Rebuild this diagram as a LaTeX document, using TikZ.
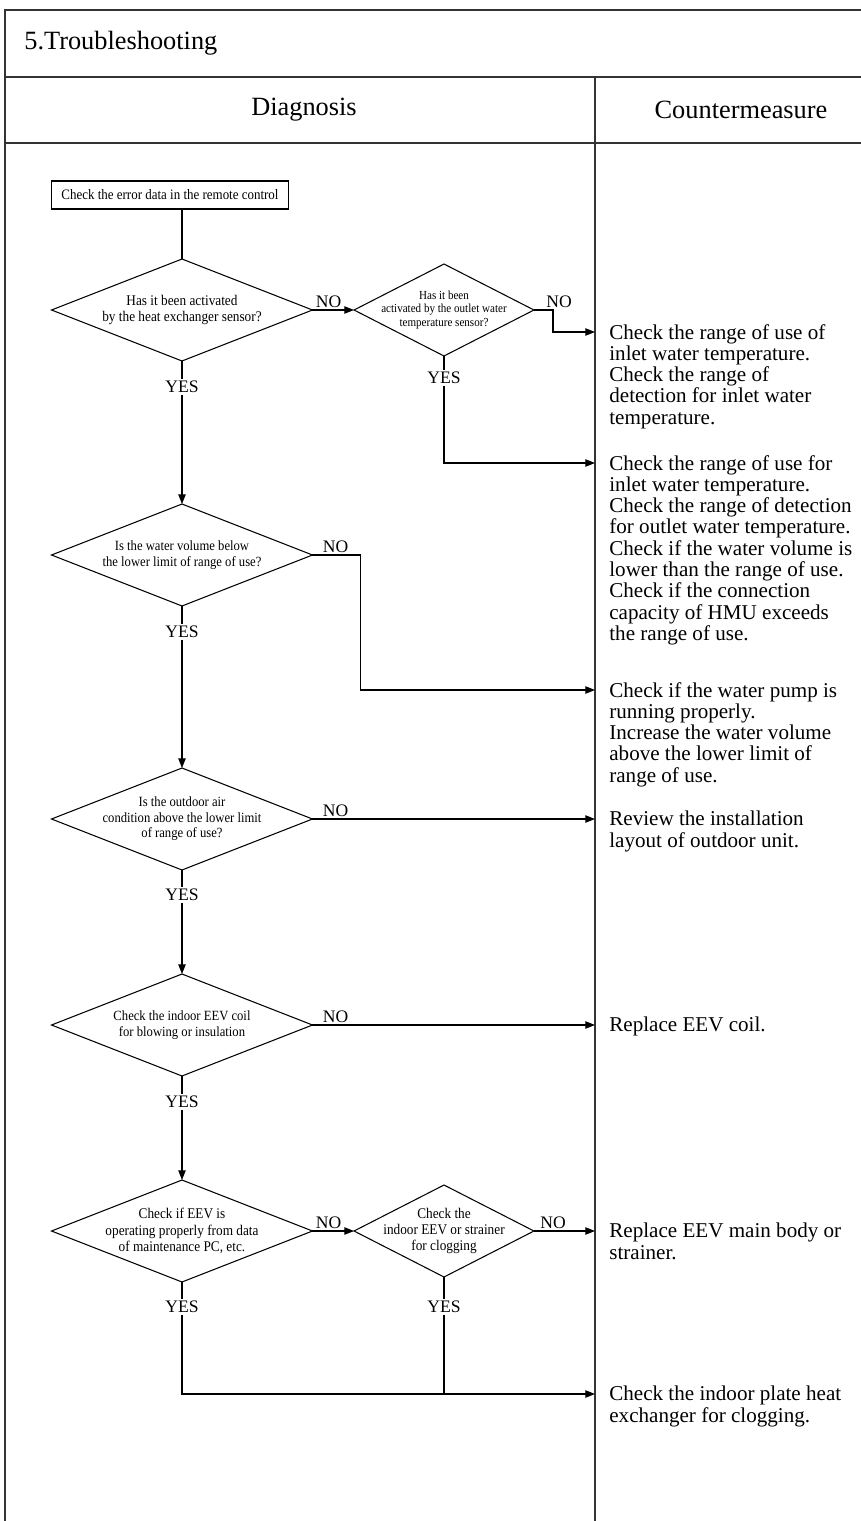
\documentclass[tikz,border=0pt]{standalone}
\usepackage{fontspec}
\setmainfont{Liberation Serif}
\newfontfamily\narrowserif[FakeStretch=0.9]{Liberation Serif}
\usetikzlibrary{arrows.meta,shapes.geometric}

\begin{document}
\begin{tikzpicture}[x=0.02cm, y=-0.02cm,
    frame/.style={line width=0.9pt, draw=black!80},
    flow/.style={line width=0.6pt},
    arr/.style={flow, -{Triangle[length=5.5pt,width=4.2pt]}},
    startbox/.style={draw, flow, minimum width=4.74cm, minimum height=0.56cm, inner sep=0pt,
        font=\narrowserif\fontsize{8.2}{9}\selectfont},
    bigq/.style={diamond, draw, flow, shape aspect=2.5, inner sep=-4pt, outer sep=0pt,
        minimum width=5.22cm, minimum height=2.04cm, align=center,
        font=\narrowserif\fontsize{8.4}{9.2}\selectfont},
    smallq/.style={diamond, draw, flow, shape aspect=2, inner sep=-4pt, outer sep=0pt,
        minimum width=3.6cm, minimum height=1.84cm, align=center,
        font=\narrowserif\fontsize{8.4}{9.2}\selectfont},
    smalltext/.style={font=\narrowserif\fontsize{8}{8.8}\selectfont},
    yn/.style={font=\fontsize{10}{10}\selectfont, inner sep=1.2pt},
    answer/.style={anchor=north west, align=left, inner sep=0pt,
        font=\fontsize{12}{12.1}\selectfont},
    head/.style={font=\fontsize{15}{18}\selectfont, inner sep=0pt}]

    \useasboundingbox (0,0) rectangle (861,1521);

    % Table frame
    \draw[frame] (5,1521) -- (5,10) -- (861,10);
    \draw[frame] (5,77) -- (861,77);
    \draw[frame] (5,143) -- (861,143);
    \draw[frame] (595,77) -- (595,1521);

    \node[head, anchor=west] (title) at (24,43) {5.Troubleshooting};
    \node[head] (diag) at (304,110) {Diagnosis};
    \node[head] (counter) at (741,110) {Countermeasure};

    % Decisions
    \node[startbox] (start) at (170,195) {Check the error data in the remote control};
    \node[bigq] (q1) at (182,310) {Has it been activated\\by the heat exchanger sensor?};
    \node[smallq, font=\narrowserif\fontsize{7}{7.7}\selectfont] (q2) at (444,310)
        {Has it been\\activated by the outlet water\\temperature sensor?};
    \node[bigq, smalltext] (q3) at (182,555) {Is the water volume below\\the lower limit of range of use?};
    \node[bigq, smalltext] (q4) at (182,819) {Is the outdoor air\\condition above the lower limit\\of range of use?};
    \node[bigq, smalltext] (q5) at (182,1025) {Check the indoor EEV coil\\for blowing or insulation};
    \node[bigq] (q6) at (182,1231) {Check if EEV is\\operating properly from data\\of maintenance PC, etc.};
    \node[smallq] (q7) at (444,1231) {Check the\\indoor EEV or strainer\\for clogging};

    % YES / NO labels
    \node[yn] (yes1) at (182,387) {YES};
    \node[yn] (yes2) at (444,378) {YES};
    \node[yn] (yes3) at (182,632) {YES};
    \node[yn] (yes4) at (182,895) {YES};
    \node[yn] (yes5) at (182,1102) {YES};
    \node[yn] (yes6) at (182,1307) {YES};
    \node[yn] (yes7) at (444,1307) {YES};

    \node[yn, anchor=south west, xshift=0.02cm] (no1) at (q1.east) {NO};
    \node[yn, anchor=south west, xshift=0.2cm] (no2) at (q2.east) {NO};
    \node[yn, anchor=south west, xshift=0.16cm] (no3) at (q3.east) {NO};
    \node[yn, anchor=south west, xshift=0.16cm] (no4) at (q4.east) {NO};
    \node[yn, anchor=south west, xshift=0.16cm] (no5) at (q5.east) {NO};
    \node[yn, anchor=south west, xshift=0.02cm] (no6) at (q6.east) {NO};
    \node[yn, anchor=south west, xshift=0.08cm] (no7) at (q7.east) {NO};

    % Arrow ends on the column line
    \coordinate (inA) at (595,332);
    \coordinate (inB) at (595,463);
    \coordinate (inC) at (595,690);
    \coordinate (inD) at (595,819);
    \coordinate (inE) at (595,1025);
    \coordinate (inF) at (595,1231);
    \coordinate (inG) at (595,1394);

    % Countermeasures
    \node[answer] (txtA) at (609,324) {Check the range of use of\\inlet water temperature.\\Check the range of\\detection for inlet water\\temperature.};
    \node[answer] (txtB) at (609,455) {Check the range of use for\\inlet water temperature.\\Check the range of detection\\for outlet water temperature.\\Check if the water volume is\\lower than the range of use.\\Check if the connection\\capacity of HMU exceeds\\the range of use.};
    \node[answer] (txtC) at (609,682) {Check if the water pump is\\running properly.\\Increase the water volume\\above the lower limit of\\range of use.};
    \node[answer] (txtD) at (609,811) {Review the installation\\layout of outdoor unit.};
    \node[answer] (txtE) at (609,1017) {Replace EEV coil.};
    \node[answer] (txtF) at (609,1223) {Replace EEV main body or\\strainer.};
    \node[answer] (txtG) at (609,1386) {Check the indoor plate heat\\exchanger for clogging.};

    % Connectors
    \draw[flow] (start.south -| q1.north) -- (q1.north);
    \draw[arr] (q1.east) -- (q2.west);
    \draw[arr] (q2.east) -- ++(19,0) |- (inA);
    \draw[flow] (q2.south) -- (yes2);
    \draw[arr] (yes2) |- (inB);

    \draw[flow] (q1.south) -- (yes1);
    \draw[arr] (yes1) -- (q3.north);
    \draw[arr] (q3.east) -- ++(48,0) |- (inC);

    \draw[flow] (q3.south) -- (yes3);
    \draw[arr] (yes3) -- (q4.north);
    \draw[arr] (q4.east) -- (inD);

    \draw[flow] (q4.south) -- (yes4);
    \draw[arr] (yes4) -- (q5.north);
    \draw[arr] (q5.east) -- (inE);

    \draw[flow] (q5.south) -- (yes5);
    \draw[arr] (yes5) -- (q6.north);
    \draw[arr] (q6.east) -- (q7.west);
    \draw[arr] (q7.east) -- (inF);

    \draw[flow] (q6.south) -- (yes6);
    \draw[arr] (yes6) |- (inG);
    \draw[flow] (q7.south) -- (yes7);
    \draw[flow] (yes7) -- (yes7 |- inG);
\end{tikzpicture}
\end{document}
